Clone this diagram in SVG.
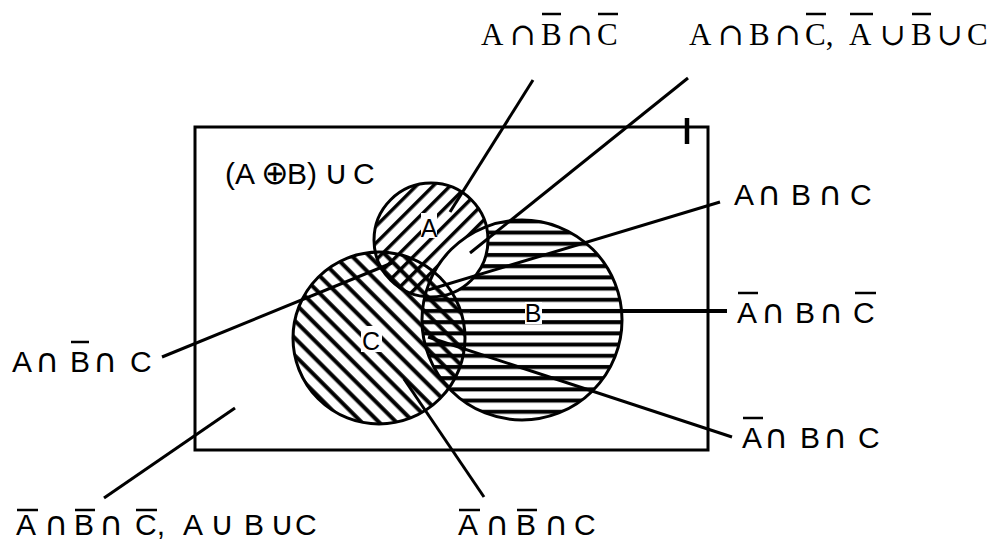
<svg xmlns="http://www.w3.org/2000/svg" width="992" height="544" viewBox="0 0 992 544">
<style>
.serif{font-family:"Liberation Serif","DejaVu Serif",serif;font-size:31px;fill:#000}
.sop{font-family:"DejaVu Serif",serif;font-size:31px}
.sans{font-family:"Liberation Sans","DejaVu Sans",sans-serif;font-size:30px;fill:#000}
.op{font-family:"DejaVu Sans",sans-serif;font-size:33px}
.lbl{font-family:"Liberation Sans","DejaVu Sans",sans-serif;font-size:25px;fill:#000;text-anchor:middle}
.bar{stroke:#000;stroke-width:2.5}
.outline{fill:none;stroke:#000;stroke-width:3}
.conn line{stroke:#000;stroke-width:3}
</style>
<defs>
<pattern id="hA" patternUnits="userSpaceOnUse" width="12" height="12" patternTransform="rotate(-45)"><rect x="0" y="4" width="12" height="3.5" fill="#000"/></pattern>
<pattern id="hB" patternUnits="userSpaceOnUse" width="20" height="11.2"><rect x="0" y="6.6" width="20" height="4" fill="#000"/></pattern>
<pattern id="hC" patternUnits="userSpaceOnUse" width="12.3" height="12.3" patternTransform="rotate(45)"><rect x="0" y="4" width="12.3" height="4" fill="#000"/></pattern>
<clipPath id="clipB"><circle cx="522" cy="320" r="100"/></clipPath>
</defs>
<rect width="992" height="544" fill="#fff"/>

<g id="universe">
<rect x="195" y="127" width="513" height="323" fill="none" stroke="#000" stroke-width="3"/>
<line x1="687" y1="118" x2="687" y2="144" stroke="#000" stroke-width="4.5"/>
<text class="sans" y="184"><tspan x="225">(A</tspan><tspan class="op" x="261">⊕</tspan><tspan x="287">B)</tspan><tspan class="op" x="324">∪</tspan><tspan x="353">C</tspan></text>
</g>

<g id="set-A"><circle cx="431" cy="240" r="57" fill="url(#hA)"/></g>
<g id="set-B"><circle cx="522" cy="320" r="100" fill="url(#hB)"/>
<circle cx="431" cy="240" r="57" fill="#fff" clip-path="url(#clipB)"/></g>
<g id="set-C"><circle cx="379" cy="338" r="86" fill="url(#hC)"/></g>
<g id="outlines">
<circle class="outline" cx="431" cy="240" r="57"/>
<circle class="outline" cx="522" cy="320" r="100"/>
<circle class="outline" cx="379" cy="338" r="86"/>
</g>

<g id="connectors" class="conn">
<line x1="533" y1="80" x2="450" y2="212"/>
<line x1="688" y1="78" x2="470" y2="253"/>
<line x1="720" y1="202" x2="428" y2="290"/>
<line x1="727" y1="311" x2="470" y2="311" style="stroke-width:4"/>
<line x1="732" y1="437" x2="428" y2="337"/>
<line x1="484" y1="497" x2="404" y2="379"/>
<line x1="104" y1="498" x2="235" y2="408"/>
<line x1="162" y1="357" x2="392" y2="263"/>
</g>

<g id="label-A"><rect x="421" y="213" width="16" height="25" fill="#fff"/><text class="lbl" x="429" y="237">A</text></g>
<g id="label-B"><rect x="525" y="302" width="17" height="22" fill="#fff"/><text class="lbl" x="533" y="322">B</text></g>
<g id="label-C"><rect x="361" y="326" width="21" height="26" fill="#fff"/><text class="lbl" x="371" y="350">C</text></g>

<g id="t-top1">
<text class="serif" y="45"><tspan x="481">A</tspan><tspan class="sop" x="510">∩</tspan><tspan x="541">B</tspan><tspan class="sop" x="567">∩</tspan><tspan x="597">C</tspan></text>
<line class="bar" x1="542" y1="14" x2="561" y2="14"/><line class="bar" x1="598" y1="14" x2="618" y2="14"/>
</g>
<g id="t-top2">
<text class="serif" y="45"><tspan x="689">A</tspan><tspan class="sop" x="718">∩</tspan><tspan x="749">B</tspan><tspan class="sop" x="775">∩</tspan><tspan x="805">C,</tspan><tspan x="849">A</tspan><tspan class="sop" x="880">∪</tspan><tspan x="911">B</tspan><tspan class="sop" x="937">∪</tspan><tspan x="967">C</tspan></text>
<line class="bar" x1="806" y1="14" x2="826" y2="14"/><line class="bar" x1="850" y1="14" x2="873" y2="14"/><line class="bar" x1="912" y1="14" x2="931" y2="14"/>
</g>
<g id="t-right1">
<text class="sans" y="205"><tspan x="734">A</tspan><tspan class="op" x="757">∩</tspan><tspan x="791">B</tspan><tspan class="op" x="818">∩</tspan><tspan x="850">C</tspan></text>
</g>
<g id="t-right2">
<text class="sans" y="323"><tspan x="737">A</tspan><tspan class="op" x="761">∩</tspan><tspan x="795">B</tspan><tspan class="op" x="819">∩</tspan><tspan x="853">C</tspan></text>
<line class="bar" x1="738" y1="293" x2="758" y2="293"/><line class="bar" x1="855" y1="293" x2="876" y2="293"/>
</g>
<g id="t-right3">
<text class="sans" y="448"><tspan x="742">A</tspan><tspan class="op" x="764">∩</tspan><tspan x="800">B</tspan><tspan class="op" x="823">∩</tspan><tspan x="858">C</tspan></text>
<line class="bar" x1="743" y1="418" x2="763" y2="418"/>
</g>
<g id="t-left">
<text class="sans" y="372"><tspan x="12">A</tspan><tspan class="op" x="35">∩</tspan><tspan x="70">B</tspan><tspan class="op" x="93">∩</tspan><tspan x="130">C</tspan></text>
<line class="bar" x1="71" y1="342" x2="89" y2="342"/>
</g>
<g id="t-bottom1">
<text class="sans" y="535"><tspan x="16">A</tspan><tspan class="op" x="44">∩</tspan><tspan x="74">B</tspan><tspan class="op" x="99">∩</tspan><tspan x="135">C,</tspan><tspan x="183">A</tspan><tspan class="op" x="210">∪</tspan><tspan x="244">B</tspan><tspan class="op" x="270">∪</tspan><tspan x="295">C</tspan></text>
<line class="bar" x1="17" y1="510" x2="38" y2="510"/><line class="bar" x1="75" y1="510" x2="95" y2="510"/><line class="bar" x1="136" y1="510" x2="157" y2="510"/>
</g>
<g id="t-bottom2">
<text class="sans" y="535"><tspan x="458">A</tspan><tspan class="op" x="485">∩</tspan><tspan x="516">B</tspan><tspan class="op" x="544">∩</tspan><tspan x="574">C</tspan></text>
<line class="bar" x1="459" y1="510" x2="480" y2="510"/><line class="bar" x1="517" y1="510" x2="537" y2="510"/>
</g>
</svg>
